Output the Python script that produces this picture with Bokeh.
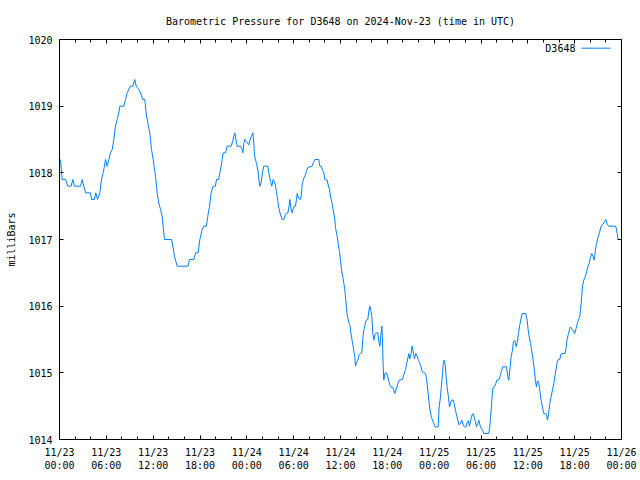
from bokeh.plotting import figure
from bokeh.models import Range1d, FixedTicker, LinearAxis, Title, Label
from bokeh.embed import file_html
from bokeh.resources import INLINE

TITLE = "Barometric Pressure for D3648 on 2024-Nov-23 (time in UTC)"
SERIES = "D3648"
Y_LABEL = "milliBars"

# hours since 2024-11-23 00:00 UTC
hours = [
    0.13, 0.34, 0.77, 1.07, 1.49, 1.71, 1.92, 2.69, 2.90, 3.12, 3.33, 3.97, 4.10, 4.48, 4.65, 4.87,
    5.17, 5.38, 5.59, 5.76, 5.89, 6.11, 6.32, 6.53, 6.75, 6.96, 7.17, 7.39, 7.60, 7.73, 8.24, 8.45,
    8.67, 9.09, 9.39, 9.65, 9.82, 10.16, 10.38, 10.67, 10.93, 11.10, 11.32, 11.57, 11.79, 12.0,
    12.3, 12.51, 12.72, 12.94, 13.15, 13.28, 13.45, 14.35, 14.52, 14.73, 15.07, 16.48, 16.65, 17.21,
    17.42, 17.76, 17.98, 18.28, 18.49, 18.83, 19.0, 19.22, 19.43, 19.69, 19.98, 20.11, 20.41, 20.54,
    20.71, 20.84, 20.97, 21.27, 21.48, 21.99, 22.2, 22.33, 22.46, 22.63, 22.76, 23.19, 23.4, 23.49,
    23.61, 23.74, 23.95, 24.25, 24.38, 24.55, 24.77, 24.9, 24.98, 25.11, 25.24, 25.41, 25.53, 25.66,
    25.83, 26.0, 26.17, 26.69, 26.86, 27.03, 27.2, 27.37, 27.54, 27.67, 27.8, 27.97, 28.1, 28.31,
    28.52, 28.74, 28.95, 29.25, 29.38, 29.51, 29.68, 29.81, 30.02, 30.23, 30.36, 30.45, 30.62, 30.87,
    31.0, 31.09, 31.3, 31.51, 31.64, 31.81, 32.37, 32.5, 32.71, 33.22, 33.35, 33.52, 33.69, 33.87,
    34.0, 34.29, 34.42, 34.59, 34.72, 34.93, 35.06, 35.23, 35.36, 35.58, 35.7, 35.87, 36.0, 36.13,
    36.3, 36.43, 36.56, 36.73, 36.86, 37.07, 37.2, 37.28, 37.41, 37.54, 37.71, 37.84, 37.92, 38.05,
    38.22, 38.39, 38.56, 38.73, 38.86, 38.99, 39.16, 39.29, 39.5, 39.63, 39.76, 39.89, 40.02, 40.14,
    40.27, 40.4, 40.57, 40.78, 40.91, 41.04, 41.21, 41.3, 41.38, 41.47, 41.55, 41.68, 41.89, 42.07,
    42.19, 42.41, 42.71, 42.83, 42.96, 43.18, 43.35, 43.52, 43.94, 44.11, 44.33, 44.46, 44.63, 44.76,
    44.88, 45.05, 45.18, 45.31, 45.48, 45.65, 45.82, 45.99, 46.16, 46.25, 46.46, 46.89, 47.01, 47.19,
    47.31, 47.44, 47.61, 47.78, 47.95, 48.12, 48.51, 48.64, 48.81, 48.94, 49.06, 49.15, 49.28, 49.41,
    49.53, 49.66, 49.83, 49.96, 50.09, 50.22, 50.47, 50.6, 50.73, 50.86, 51.03, 51.2, 51.37, 51.54,
    51.71, 51.88, 52.1, 52.27, 52.39, 52.52, 52.69, 52.86, 52.99, 53.16, 53.29, 53.42, 53.59, 53.72,
    53.85, 54.02, 54.19, 54.36, 55.0, 55.13, 55.21, 55.34, 55.43, 55.55, 55.72, 55.9, 56.02, 56.32,
    56.49, 56.66, 56.79, 57.26, 57.43, 57.56, 57.69, 57.86, 58.03, 58.16, 58.33, 58.5, 58.67, 58.8,
    58.97, 59.14, 59.27, 59.74, 59.91, 60.04, 60.17, 60.34, 60.51, 60.68, 60.85, 60.98, 61.11, 61.19,
    61.36, 61.53, 61.7, 61.87, 62.04, 62.39, 62.51, 62.64, 62.81, 62.98, 63.15, 63.33, 63.5, 63.67,
    63.8, 64.1, 64.22, 64.35, 64.78, 64.91, 65.03, 65.21, 65.38, 65.46, 65.76, 66.02, 66.19, 66.4,
    66.66, 66.74, 66.87, 67.0, 67.17, 67.34, 67.51, 67.68, 67.85, 68.02, 68.19, 68.37, 68.49, 68.66,
    68.79, 69.01, 69.18, 69.39, 69.65, 69.82, 69.99, 70.16, 70.37, 71.27, 71.44, 71.57, 71.87,
]

pressure = [
    1018.2, 1017.9, 1017.9, 1017.8, 1017.8, 1017.9, 1017.8, 1017.8, 1017.9, 1017.8, 1017.7, 1017.7, 1017.6, 1017.6, 1017.7, 1017.6,
    1017.7, 1017.9, 1018.0, 1018.1, 1018.2, 1018.1, 1018.2, 1018.3, 1018.35, 1018.5, 1018.7, 1018.8, 1018.9, 1019.0, 1019.0, 1019.1,
    1019.2, 1019.3, 1019.3, 1019.4, 1019.3, 1019.25, 1019.2, 1019.1, 1019.1, 1018.9, 1018.75, 1018.6, 1018.35, 1018.2,
    1017.95, 1017.7, 1017.55, 1017.45, 1017.35, 1017.2, 1017.0, 1017.0, 1016.9, 1016.75, 1016.6, 1016.6, 1016.7, 1016.7,
    1016.8, 1016.8, 1017.0, 1017.15, 1017.2, 1017.2, 1017.35, 1017.5, 1017.7, 1017.8, 1017.8, 1017.9, 1017.9, 1018.0,
    1018.1, 1018.2, 1018.3, 1018.3, 1018.4, 1018.4, 1018.48, 1018.55, 1018.6, 1018.48, 1018.4, 1018.4, 1018.35, 1018.3,
    1018.44, 1018.5, 1018.47, 1018.42, 1018.48, 1018.54, 1018.6, 1018.44, 1018.27, 1018.2, 1018.14, 1018.04, 1017.92, 1017.8,
    1017.85, 1018.0, 1018.1, 1018.1, 1017.97, 1017.87, 1017.8, 1017.9, 1017.87, 1017.8, 1017.72, 1017.58, 1017.47, 1017.37,
    1017.3, 1017.3, 1017.38, 1017.4, 1017.47, 1017.6, 1017.45, 1017.4, 1017.49, 1017.5, 1017.6, 1017.69, 1017.62, 1017.6,
    1017.68, 1017.83, 1017.92, 1017.97, 1018.02, 1018.08, 1018.1, 1018.15, 1018.2, 1018.2, 1018.1, 1018.1, 1018.04, 1018.0,
    1017.9, 1017.89, 1017.82, 1017.75, 1017.64, 1017.54, 1017.44, 1017.34, 1017.18, 1017.04, 1016.94, 1016.82, 1016.68, 1016.54,
    1016.44, 1016.34, 1016.24, 1016.02, 1015.87, 1015.75, 1015.72, 1015.64, 1015.54, 1015.45, 1015.33, 1015.23, 1015.1, 1015.15,
    1015.19, 1015.27, 1015.29, 1015.3, 1015.52, 1015.64, 1015.73, 1015.79, 1015.8, 1015.93, 1016.0, 1015.93, 1015.84, 1015.59,
    1015.49, 1015.57, 1015.6, 1015.6, 1015.47, 1015.4, 1015.6, 1015.7, 1015.49, 1015.09, 1014.89, 1014.99, 1015.0, 1014.94,
    1014.87, 1014.79, 1014.78, 1014.74, 1014.69, 1014.77, 1014.84, 1014.89, 1014.9, 1014.97, 1015.05, 1015.13, 1015.22, 1015.29,
    1015.21, 1015.29, 1015.4, 1015.32, 1015.21, 1015.29, 1015.25, 1015.19, 1015.14, 1015.12, 1015.02, 1014.99, 1014.92, 1014.74,
    1014.59, 1014.47, 1014.35, 1014.29, 1014.24, 1014.19, 1014.19, 1014.49, 1014.64, 1014.82, 1014.97, 1015.12, 1015.19, 1015.12,
    1014.94, 1014.79, 1014.64, 1014.49, 1014.54, 1014.59, 1014.59, 1014.52, 1014.44, 1014.37, 1014.29, 1014.22, 1014.24, 1014.29,
    1014.22, 1014.19, 1014.19, 1014.27, 1014.28, 1014.2, 1014.29, 1014.37, 1014.39, 1014.32, 1014.27, 1014.19, 1014.24, 1014.29,
    1014.22, 1014.17, 1014.14, 1014.09, 1014.09, 1014.19, 1014.32, 1014.49, 1014.67, 1014.78, 1014.79, 1014.84, 1014.89, 1014.9,
    1014.97, 1015.04, 1015.09, 1015.09, 1014.95, 1014.89, 1015.04, 1015.24, 1015.34, 1015.47, 1015.49, 1015.39, 1015.47, 1015.59,
    1015.72, 1015.82, 1015.89, 1015.89, 1015.79, 1015.65, 1015.54, 1015.44, 1015.32, 1015.19, 1015.04, 1014.87, 1014.79, 1014.87,
    1014.87, 1014.74, 1014.59, 1014.49, 1014.39, 1014.38, 1014.29, 1014.37, 1014.54, 1014.64, 1014.74, 1014.84, 1014.97, 1015.09,
    1015.19, 1015.2, 1015.28, 1015.29, 1015.29, 1015.39, 1015.5, 1015.59, 1015.67, 1015.69, 1015.64, 1015.59, 1015.67, 1015.77,
    1015.84, 1015.94, 1016.09, 1016.3, 1016.39, 1016.44, 1016.5, 1016.59, 1016.64, 1016.73, 1016.79, 1016.74, 1016.69, 1016.84,
    1016.94, 1017.04, 1017.1, 1017.2, 1017.23, 1017.27, 1017.3, 1017.23, 1017.2, 1017.2, 1017.09, 1017.0, 1017.0,
]

X_TICKS = [0, 6, 12, 18, 24, 30, 36, 42, 48, 54, 60, 66, 72]
X_MINOR = [2, 4, 8, 10, 14, 16, 20, 22, 26, 28, 32, 34, 38, 40, 44, 46, 50, 52, 56, 58, 62, 64, 68, 70]
X_LABELS = ["11/23\n00:00", "11/23\n06:00", "11/23\n12:00", "11/23\n18:00",
            "11/24\n00:00", "11/24\n06:00", "11/24\n12:00", "11/24\n18:00",
            "11/25\n00:00", "11/25\n06:00", "11/25\n12:00", "11/25\n18:00",
            "11/26\n00:00"]
Y_TICKS = [1014, 1015, 1016, 1017, 1018, 1019, 1020]
Y_LABELS = ["1014", "1015", "1016", "1017", "1018", "1019", "1020"]

# legend placement (data units, top-right inside the frame)
LEGEND_TEXT_X = 66.1
LEGEND_LINE_X = [66.87, 70.59]
LEGEND_Y = 1019.87

FONT = "DejaVu Sans Mono"
FS = "10px"
LINE_COLOR = "#0080ff"

p = figure(frame_width=562, frame_height=400,
           x_range=Range1d(0, 72), y_range=Range1d(1014, 1020),
           output_backend="svg", toolbar_location=None,
           min_border_left=59, min_border_right=19,
           min_border_top=39, min_border_bottom=41,
           background_fill_color="white", border_fill_color="white")
p.outline_line_color = None
p.xgrid.visible = False
p.ygrid.visible = False


def style_axis(ax, labels=True):
    ax.axis_line_color = "black"
    ax.axis_line_width = 1
    ax.major_tick_line_color = "black"
    ax.minor_tick_line_color = "black"
    ax.major_tick_in = 4
    ax.major_tick_out = 0
    ax.minor_tick_in = 3
    ax.minor_tick_out = 0
    ax.major_label_text_font = FONT
    ax.major_label_text_color = "black"
    if labels:
        ax.major_label_text_font_size = FS
        ax.major_label_standoff = 7
    else:
        ax.major_label_text_font_size = "0px"
        ax.major_label_standoff = 0


xa = p.xaxis[0]
xa.ticker = FixedTicker(ticks=X_TICKS, minor_ticks=X_MINOR)
xa.major_label_overrides = {t: l for t, l in zip(X_TICKS, X_LABELS)}
style_axis(xa)

ya = p.yaxis[0]
ya.ticker = FixedTicker(ticks=Y_TICKS, minor_ticks=[])
ya.major_label_overrides = {t: l for t, l in zip(Y_TICKS, Y_LABELS)}
style_axis(ya)
ya.axis_label = Y_LABEL
ya.axis_label_text_font = FONT
ya.axis_label_text_font_size = FS
ya.axis_label_text_font_style = "normal"
ya.axis_label_text_color = "black"
ya.axis_label_standoff = 8

top = LinearAxis(ticker=FixedTicker(ticks=X_TICKS, minor_ticks=X_MINOR),
                 major_label_overrides={t: "" for t in X_TICKS})
style_axis(top, labels=False)
p.add_layout(top, "above")

right = LinearAxis(ticker=FixedTicker(ticks=Y_TICKS, minor_ticks=[]),
                   major_label_overrides={t: "" for t in Y_TICKS})
style_axis(right, labels=False)
p.add_layout(right, "right")

p.add_layout(Title(text=TITLE, align="center", text_font=FONT, text_font_size=FS,
                   text_font_style="normal", text_color="black", standoff=25), "above")

p.line(hours, pressure, line_color=LINE_COLOR, line_width=1)

p.add_layout(Label(x=LEGEND_TEXT_X, y=LEGEND_Y, text=SERIES, text_align="right",
                   text_baseline="middle", text_font=FONT, text_font_size=FS,
                   text_color="black"))
p.line(LEGEND_LINE_X, [LEGEND_Y, LEGEND_Y], line_color=LINE_COLOR, line_width=1)

open("out.html", "w").write(file_html(p, INLINE))
